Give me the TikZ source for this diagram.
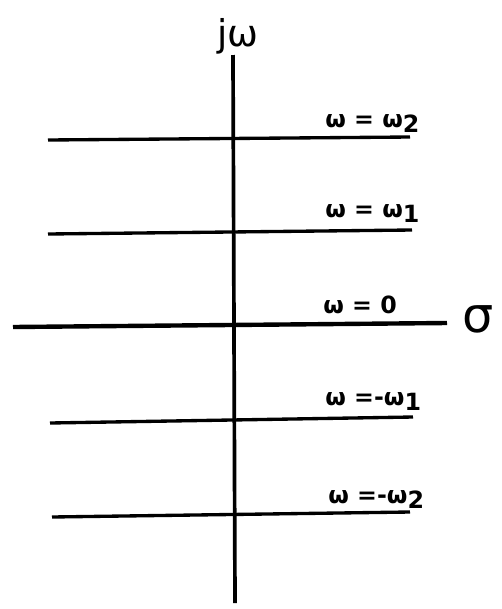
\documentclass[tikz,border=0pt]{standalone}
\usepackage{fontspec}
\setmainfont{DejaVu Sans}
\usetikzlibrary{positioning}
\newcommand{\lowidx}[1]{\raisebox{-0.45ex}{#1}}

\begin{document}
\begin{tikzpicture}[x=0.02cm,y=-0.02cm,
  axisline/.style={line width=2.1pt},
  levelline/.style={line width=1.9pt},
  levellabel/.style={font=\fontsize{13.5}{15}\selectfont\bfseries,anchor=base west,inner sep=0pt}]
\useasboundingbox (0,0) rectangle (501,609);
% axes
\coordinate (jtop) at (233,55);
\coordinate (jbot) at (235,603);
\coordinate (sleft) at (13,327);
\coordinate (sright) at (447,323);
\draw[axisline] (jtop) -- (jbot);
\draw[line width=2.5pt] (sleft) -- (sright);
\node[font=\fontsize{21}{23}\selectfont,anchor=base,inner sep=0pt] (jw) at (238,46) {jω};
\node[font=\fontsize{28}{30}\selectfont,anchor=base,inner sep=0pt] (sigma) at (478,332) {σ};
\node[levellabel] (w0lab) at (323,313) {ω = 0};
% lines of constant omega
\foreach \lname/\xa/\ya/\xb/\yb/\xt/\yt/\txt in {
  wtwo/48/140/410/137/325/127/{ω = ω\lowidx{2}},
  wone/48/234/412/230/325/217/{ω = ω\lowidx{1}},
  wmone/50/423/413/417/325/405/{ω =-ω\lowidx{1}},
  wmtwo/52/517/410/512/328/503/{ω =-ω\lowidx{2}}}{
  \coordinate (\lname l) at (\xa,\ya);
  \coordinate (\lname r) at (\xb,\yb);
  \draw[levelline] (\lname l) -- (\lname r);
  \node[levellabel] (\lname lab) at (\xt,\yt) {\txt};
}
\end{tikzpicture}
\end{document}
